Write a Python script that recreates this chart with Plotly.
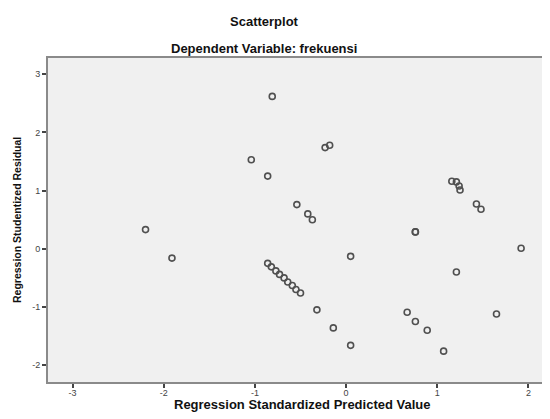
import plotly.graph_objects as go

# Regression Standardized Predicted Value (x) and Studentized Residual (y)
pred = [-0.81, -0.23, -0.18, -1.04, -0.86, -0.54, -0.42, -0.37,
        -0.86, -0.82, -0.77, -0.73, -0.68, -0.64, -0.59, -0.55, -0.50,
        0.05, -0.32, -0.14, 0.05,
        1.16, 1.21, 1.24, 1.25, 1.43, 1.48,
        0.76, 0.76, 1.92, 1.21,
        0.67, 0.76, 0.89, 1.65, 1.07,
        -2.20, -1.91]
resid = [2.62, 1.74, 1.78, 1.53, 1.25, 0.76, 0.60, 0.50,
         -0.25, -0.31, -0.38, -0.44, -0.50, -0.57, -0.63, -0.70, -0.76,
         -0.13, -1.05, -1.36, -1.66,
         1.16, 1.15, 1.08, 1.01, 0.77, 0.68,
         0.29, 0.29, 0.01, -0.40,
         -1.09, -1.25, -1.40, -1.12, -1.76,
         0.33, -0.16]

x_ticks = [-3, -2, -1, 0, 1, 2]
y_ticks = [-2, -1, 0, 1, 2, 3]

title = "Scatterplot"
subtitle = "Dependent Variable: frekuensi"
x_title = "Regression Standardized Predicted Value"
y_title = "Regression Studentized Residual"

FONT = "Liberation Sans, Arial, sans-serif"
OFF = 8  # page body margin offset
W, H = 550 - OFF, 419 - OFF
ML, MR, MT, MB = 48 - OFF, 2, 58 - OFF, 37
PW, PH = W - ML - MR, H - MT - MB


def px(x):
    return (x - OFF - ML) / PW


def py(y):
    return (H - MB - (y - OFF)) / PH


fig = go.Figure()
fig.add_trace(go.Scatter(
    x=pred, y=resid, mode="markers",
    marker=dict(symbol="circle-open", size=6, color="#505050",
                line=dict(width=1.6, color="#505050")),
    showlegend=False,
))

ann = [
    dict(text="<b>" + title + "</b>", x=px(264), y=py(22), size=13),
    dict(text="<b>" + subtitle + "</b>", x=px(264), y=py(48), size=13),
    dict(text="<b>" + x_title + "</b>", x=px(302), y=py(404), size=13),
]
annotations = [dict(text=a["text"], x=a["x"], y=a["y"], xref="paper", yref="paper",
                    xanchor="center", yanchor="middle", showarrow=False,
                    font=dict(size=a["size"], color="#111", family=FONT)) for a in ann]
annotations.append(dict(text="<b>" + y_title + "</b>", x=px(17), y=py(220),
                        xref="paper", yref="paper", xanchor="center", yanchor="middle",
                        textangle=-90, showarrow=False,
                        font=dict(size=10.5, color="#111", family=FONT)))

fig.update_layout(
    width=W, height=H,
    margin=dict(l=ML, r=MR, t=MT, b=MB, autoexpand=False),
    paper_bgcolor="white",
    plot_bgcolor="#F0F0F0",
    font=dict(family=FONT, color="#222"),
    annotations=annotations,
)

fig.update_xaxes(
    range=[-3.27, 2.215], tickvals=x_ticks, ticktext=[str(v) for v in x_ticks],
    showgrid=False, zeroline=False, automargin=False,
    showline=True, linecolor="#8a8a8a", linewidth=2, mirror=True,
    ticks="outside", ticklen=4, tickwidth=1.5, tickcolor="#444",
    ticklabelstandoff=-3,
    tickfont=dict(size=9, color="#444"),
)
fig.update_yaxes(
    range=[-2.29, 3.28], tickvals=y_ticks, ticktext=[str(v) for v in y_ticks],
    showgrid=False, zeroline=False, automargin=False,
    showline=True, linecolor="#8a8a8a", linewidth=2, mirror=True,
    ticks="outside", ticklen=4, tickwidth=1.5, tickcolor="#444",
    tickfont=dict(size=9, color="#444"),
)

fig.write_html("out.html")
